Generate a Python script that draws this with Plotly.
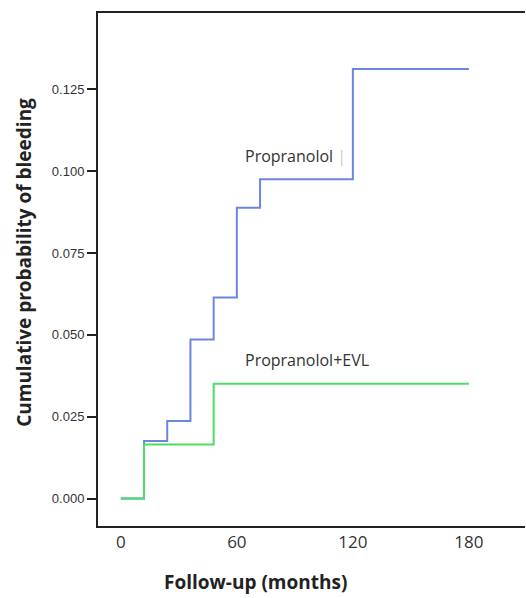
import plotly.graph_objects as go

# Data (months, cumulative probability of bleeding)
prop_x = [0, 12, 24, 36, 48, 60, 72, 120, 180]
prop_y = [0.0, 0.0176, 0.0237, 0.0486, 0.0614, 0.0888, 0.0975, 0.1312, 0.1312]
evl_x = [0, 12, 48, 180]
evl_y = [0.0, 0.0165, 0.0351, 0.0351]

x_ticks = [0, 60, 120, 180]
x_ticktext = ["0", "60", "120", "180"]
y_ticks = [0.0, 0.025, 0.05, 0.075, 0.1, 0.125]
y_ticktext = ["0.000", "0.025", "0.050", "0.075", "0.100", "0.125"]

fig = go.Figure()
fig.add_trace(go.Scatter(x=prop_x, y=prop_y, mode="lines", line=dict(color="#6b86e0", width=2, shape="hv"),
                         name="Propranolol", showlegend=False))
fig.add_trace(go.Scatter(x=evl_x, y=evl_y, mode="lines", line=dict(color="#4cdd66", width=2, shape="hv"),
                         name="Propranolol+EVL", showlegend=False))

fig.add_annotation(x=63.2, y=0.1046, text="Propranolol <span style='color:#cccccc'>|</span>", showarrow=False,
                   xanchor="left", yanchor="middle",
                   font=dict(family="Open Sans", size=16, color="#333333"))
fig.add_annotation(x=63.2, y=0.0423, text="Propranolol+EVL", showarrow=False, xanchor="left", yanchor="middle",
                   font=dict(family="Open Sans", size=16, color="#333333"))

fig.add_annotation(xref="paper", yref="paper", x=0.368, y=-0.110, text="<b>Follow-up (months)</b>",
                   showarrow=False, xanchor="center", yanchor="middle",
                   font=dict(family="Open Sans", size=19, color="#222222"))
fig.add_annotation(xref="paper", yref="paper", x=-0.172, y=0.514, text="<b>Cumulative probability of bleeding</b>",
                   showarrow=False, xanchor="center", yanchor="middle", textangle=-90,
                   font=dict(family="Open Sans", size=19, color="#222222"))

fig.update_layout(
    width=526, height=598,
    margin=dict(l=98, r=1, t=13, b=72),
    paper_bgcolor="white", plot_bgcolor="white",
    xaxis=dict(range=[-11.8, 209], tickvals=x_ticks, ticktext=x_ticktext, showgrid=False, zeroline=False,
               showline=True, linecolor="#222222", linewidth=2, mirror=True, ticks="",
               tickfont=dict(family="Open Sans", size=17, color="#333333")),
    yaxis=dict(range=[-0.00837, 0.1483], tickvals=y_ticks, ticktext=y_ticktext, showgrid=False, zeroline=False,
               showline=True, linecolor="#222222", linewidth=2, ticks="outside", ticklen=9, tickwidth=2,
               tickcolor="#222222", tickfont=dict(family="Liberation Sans", size=13, color="#333333")),
)

fig.write_html("out.html", config={"displayModeBar": False},
               post_script="document.body.style.margin='0';document.body.style.overflow='hidden';")
